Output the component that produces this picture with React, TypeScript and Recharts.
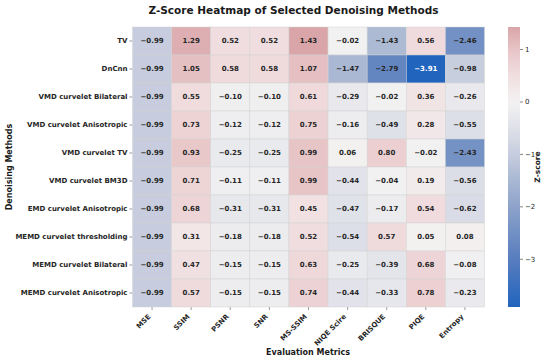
import React from "react";
import {
  ScatterChart,
  Scatter,
  XAxis,
  YAxis,
  ComposedChart,
  Bar,
} from "recharts";

// row labels (top to bottom)
const methods = [
  "TV",
  "DnCnn",
  "VMD curvelet Bilateral",
  "VMD curvelet Anisotropic",
  "VMD curvelet TV",
  "VMD curvelet BM3D",
  "EMD curvelet Anisotropic",
  "MEMD curvelet thresholding",
  "MEMD curvelet Bilateral",
  "MEMD curvelet Anisotropic",
];

// column labels
const metrics = ["MSE", "SSIM", "PSNR", "SNR", "MS-SSIM", "NIQE Scire", "BRISQUE", "PIQE", "Entropy"];

// z-scores per metric, one value per method (same order as methods)
const mse = [-0.99, -0.99, -0.99, -0.99, -0.99, -0.99, -0.99, -0.99, -0.99, -0.99];
const ssim = [1.29, 1.05, 0.55, 0.73, 0.93, 0.71, 0.68, 0.31, 0.47, 0.57];
const psnr = [0.52, 0.58, -0.1, -0.12, -0.25, -0.11, -0.31, -0.18, -0.15, -0.15];
const snr = [0.52, 0.58, -0.1, -0.12, -0.25, -0.11, -0.31, -0.18, -0.15, -0.15];
const msSsim = [1.43, 1.07, 0.61, 0.75, 0.99, 0.99, 0.45, 0.52, 0.63, 0.74];
const niqe = [-0.02, -1.47, -0.29, -0.16, 0.06, -0.44, -0.47, -0.54, -0.25, -0.44];
const brisque = [-1.43, -2.79, -0.02, -0.49, 0.8, -0.04, -0.17, 0.57, -0.39, -0.33];
const piqe = [0.56, -3.91, 0.36, 0.28, -0.02, 0.19, 0.54, 0.05, 0.68, 0.78];
const entropy = [-2.46, -0.98, -0.26, -0.55, -2.43, -0.56, -0.62, 0.08, -0.08, -0.23];

const columns = [mse, ssim, psnr, snr, msSsim, niqe, brisque, piqe, entropy];

// colorbar ticks
const zTicks = [-3, -2, -1, 0, 1];

const cells = methods.flatMap((method, r) =>
  metrics.map((metric, c) => ({ method, metric, z: columns[c][r] }))
);

const allZ = columns.flat();
const zMin = Math.min(...allZ);
const zMax = Math.max(...allZ);
const zRange = Math.max(Math.abs(zMin), Math.abs(zMax));

// approximated vlag colormap
const stops: [number, number[]][] = [
  [0.0, [33, 100, 190]],
  [0.116, [88, 125, 190]],
  [0.185, [115, 145, 196]],
  [0.244, [142, 163, 203]],
  [0.317, [172, 186, 212]],
  [0.372, [198, 205, 222]],
  [0.45, [228, 229, 235]],
  [0.5, [243, 242, 242]],
  [0.56, [241, 224, 225]],
  [0.62, [233, 200, 202]],
  [0.683, [217, 165, 168]],
  [0.8, [200, 120, 124]],
  [1.0, [169, 55, 59]],
];

const rgbFor = (v: number) => {
  const t = Math.min(1, Math.max(0, 0.5 + v / (2 * zRange)));
  for (let i = 1; i < stops.length; i++) {
    const [p1, c1] = stops[i];
    const [p0, c0] = stops[i - 1];
    if (t <= p1) {
      const f = (t - p0) / (p1 - p0);
      return c0.map((c, k) => Math.round(c + (c1[k] - c) * f));
    }
  }
  return stops[stops.length - 1][1];
};

const colorFor = (v: number) => `rgb(${rgbFor(v).join(",")})`;

const textColorFor = (v: number) => {
  const [r, g, b] = rgbFor(v).map((c) => c / 255);
  const lum = 0.2126 * r + 0.7152 * g + 0.0722 * b;
  return lum < 0.4 ? "#ffffff" : "#262626";
};

const fmt = (v: number) => v.toFixed(2).replace("-", "\u2212");

const W = 550;
const H = 361;
const PLOT_LEFT = 132.5;
const PLOT_RIGHT = 484.5;
const PLOT_TOP = 27;
const PLOT_BOTTOM = 307;
const CELL_W = (PLOT_RIGHT - PLOT_LEFT) / metrics.length;
const CELL_H = (PLOT_BOTTOM - PLOT_TOP) / methods.length;

const HeatCell = (props: any) => {
  const { cx, cy, payload } = props;
  if (cx == null || cy == null) return null;
  return (
    <g>
      <rect
        x={cx - CELL_W / 2}
        y={cy - CELL_H / 2}
        width={CELL_W}
        height={CELL_H}
        fill={colorFor(payload.z)}
        stroke="#d3d3d3"
        strokeWidth={0.5}
      />
      <text
        x={cx}
        y={cy}
        textAnchor="middle"
        dominantBaseline="central"
        fontSize={7}
        fontWeight="bold"
        fill={textColorFor(payload.z)}
      >
        {fmt(payload.z)}
      </text>
    </g>
  );
};

const XTick = ({ x, y, payload }: any) => (
  <g transform={`translate(${x - 1},${y + 5})`}>
    <text textAnchor="end" transform="rotate(-45)" fontSize={7} fontWeight="bold" fill="#262626">
      {payload.value}
    </text>
  </g>
);

const YTick = ({ x, y, payload }: any) => (
  <text
    x={x}
    y={y}
    textAnchor="end"
    dominantBaseline="central"
    fontSize={7}
    fontWeight="bold"
    fill="#262626"
  >
    {payload.value}
  </text>
);

const titleStyle: React.CSSProperties = {
  position: "absolute",
  fontWeight: "bold",
  whiteSpace: "nowrap",
  color: "#1a1a1a",
};

export default function App() {
  return (
    <div
      style={{
        position: "fixed",
        left: 0,
        top: 0,
        width: W,
        height: H,
        background: "#fff",
        fontFamily: "'DejaVu Sans', sans-serif",
      }}
    >
      <ScatterChart
        width={W}
        height={H}
        margin={{ top: PLOT_TOP, right: W - PLOT_RIGHT, bottom: 0, left: 0 }}
      >
        <XAxis
          dataKey="metric"
          type="category"
          allowDuplicatedCategory={false}
          height={H - PLOT_BOTTOM}
          tickSize={3}
          tickLine={{ stroke: "#555", strokeWidth: 0.6 }}
          axisLine={false}
          interval={0}
          tick={<XTick />}
        />
        <YAxis
          dataKey="method"
          type="category"
          allowDuplicatedCategory={false}
          reversed
          width={PLOT_LEFT}
          tickSize={3}
          tickLine={{ stroke: "#555", strokeWidth: 0.6 }}
          axisLine={false}
          interval={0}
          tick={<YTick />}
        />
        <Scatter data={cells} shape={<HeatCell />} isAnimationActive={false} />
      </ScatterChart>

      <div style={{ position: "absolute", left: 500, top: 0 }}>
        <ComposedChart
          width={50}
          height={H}
          data={[{ name: "z", range: [zMin, zMax] }]}
          margin={{ top: PLOT_TOP, right: 0, bottom: H - PLOT_BOTTOM, left: 8 }}
          barCategoryGap={0}
        >
          <defs>
            <linearGradient id="zGrad" x1="0" y1="0" x2="0" y2="1">
              {Array.from({ length: 41 }, (_, i) => (
                <stop
                  key={i}
                  offset={`${(i / 40) * 100}%`}
                  stopColor={colorFor(zMax - ((zMax - zMin) * i) / 40)}
                />
              ))}
            </linearGradient>
          </defs>
          <XAxis dataKey="name" type="category" hide />
          <YAxis
            orientation="right"
            type="number"
            domain={[zMin, zMax]}
            ticks={zTicks}
            allowDataOverflow
            width={30}
            tickSize={3}
            tickLine={{ stroke: "#333", strokeWidth: 0.6 }}
            axisLine={false}
            tickFormatter={(v: number) => String(v).replace("-", "\u2212")}
            tick={{ fontSize: 7, fill: "#262626" }}
          />
          <Bar dataKey="range" fill="url(#zGrad)" isAnimationActive={false} />
        </ComposedChart>
      </div>

      <div style={{ ...titleStyle, left: 293.5, top: 10, fontSize: 10.5, transform: "translate(-50%,-50%)" }}>
        Z-Score Heatmap of Selected Denoising Methods
      </div>
      <div style={{ ...titleStyle, left: 308, top: 352, fontSize: 8, transform: "translate(-50%,-50%)" }}>
        Evaluation Metrics
      </div>
      <div
        style={{ ...titleStyle, left: 9, top: 167, fontSize: 8, transform: "translate(-50%,-50%) rotate(-90deg)" }}
      >
        Denoising Methods
      </div>
      <div
        style={{ ...titleStyle, left: 537, top: 167, fontSize: 7.5, transform: "translate(-50%,-50%) rotate(-90deg)" }}
      >
        Z-score
      </div>
    </div>
  );
}
